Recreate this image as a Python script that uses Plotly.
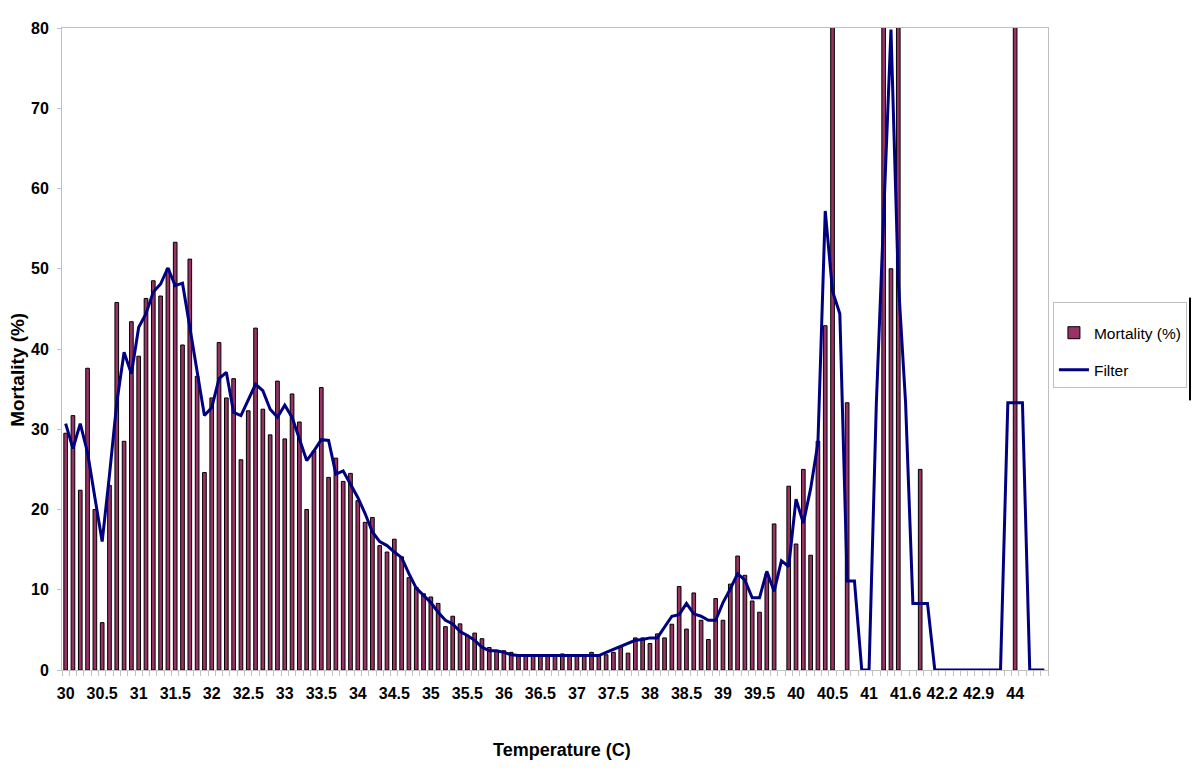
import plotly.graph_objects as go

# ---- data -----------------------------------------------------------------
temps = [
    30.0, 30.1, 30.2, 30.3, 30.4, 30.5, 30.6, 30.7, 30.8, 30.9,
    31.0, 31.1, 31.2, 31.3, 31.4, 31.5, 31.6, 31.7, 31.8, 31.9,
    32.0, 32.1, 32.2, 32.3, 32.4, 32.5, 32.6, 32.7, 32.8, 32.9,
    33.0, 33.1, 33.2, 33.3, 33.4, 33.5, 33.6, 33.7, 33.8, 33.9,
    34.0, 34.1, 34.2, 34.3, 34.4, 34.5, 34.6, 34.7, 34.8, 34.9,
    35.0, 35.1, 35.2, 35.3, 35.4, 35.5, 35.6, 35.7, 35.8, 35.9,
    36.0, 36.1, 36.2, 36.3, 36.4, 36.5, 36.6, 36.7, 36.8, 36.9,
    37.0, 37.1, 37.2, 37.3, 37.4, 37.5, 37.6, 37.7, 37.8, 37.9,
    38.0, 38.1, 38.2, 38.3, 38.4, 38.5, 38.6, 38.7, 38.8, 38.9,
    39.0, 39.1, 39.2, 39.3, 39.4, 39.5, 39.6, 39.7, 39.8, 39.9,
    40.0, 40.1, 40.2, 40.3, 40.4, 40.5, 40.6, 40.7, 40.8, 40.9,
    41.0, 41.1, 41.2, 41.3, 41.4, 41.6, 41.7, 41.8, 41.9, 42.0,
    42.2, 42.3, 42.5, 42.6, 42.8, 42.9, 43.1, 43.3, 43.6, 43.8,
    44.0, 44.2, 44.5, 44.8, 45.0,
]

tick_labels = ["30", "30.5", "31", "31.5", "32", "32.5", "33", "33.5", "34",
               "34.5", "35", "35.5", "36", "36.5", "37", "37.5", "38", "38.5",
               "39", "39.5", "40", "40.5", "41", "41.6", "42.2", "42.9", "44"]

mortality = [
    29.5, 31.7, 22.4, 37.6, 20.0, 5.9, 23.0, 45.8, 28.5, 43.4,
    39.1, 46.3, 48.5, 46.6, 50.0, 53.3, 40.5, 51.2, 36.6, 24.6,
    33.9, 40.8, 33.9, 36.3, 26.2, 32.3, 42.6, 32.5, 29.3, 36.0,
    28.8, 34.4, 30.9, 20.0, 27.3, 35.2, 24.0, 26.4, 23.5, 24.5,
    21.1, 18.4, 19.0, 15.5, 14.7, 16.3, 14.1, 11.5, 10.3, 9.5,
    9.1, 8.3, 5.4, 6.7, 5.75, 4.3, 4.6, 3.9, 2.8, 2.4,
    2.4, 2.2, 1.8, 1.8, 1.8, 1.8, 1.8, 1.8, 2.0, 1.8,
    1.8, 1.8, 2.2, 1.8, 1.9, 2.2, 2.85, 2.1, 4.0, 4.0,
    3.3, 4.5, 4.0, 5.7, 10.4, 5.1, 9.6, 6.2, 3.8, 8.9,
    6.2, 10.7, 14.2, 11.8, 8.6, 7.2, 12.0, 18.2, None, 22.9,
    15.7, 25.0, 14.3, 28.5, 42.9, 100.0, None, 33.3, None, None,
    None, None, 100.0, 50.0, 100.0, None, None, 25.0, None, None,
    None, None, None, None, None, None, None, None, None, None,
    100.0, None, None, None, None,
]

filter_vals = [
    30.7, 27.6, 30.7, 27.1, 21.5, 16.0, 24.3, 33.3, 39.6, 36.9,
    42.7, 44.4, 47.1, 48.1, 50.1, 47.9, 48.2, 42.7, 37.3, 31.7,
    32.7, 36.3, 37.1, 32.1, 31.7, 33.6, 35.6, 34.8, 32.5, 31.5,
    33.0, 31.5, 28.8, 26.1, 27.3, 28.7, 28.6, 24.4, 24.8, 23.2,
    21.5, 19.5, 17.2, 16.0, 15.5, 14.7, 14.0, 12.0, 10.2, 9.3,
    8.4, 7.2, 6.2, 5.75, 4.8, 4.3, 3.7, 2.85, 2.4, 2.4,
    2.2, 1.9, 1.8, 1.8, 1.8, 1.8, 1.8, 1.8, 1.8, 1.8,
    1.8, 1.8, 1.8, 1.8, 2.2, 2.6, 2.9, 3.3, 3.7, 3.8,
    4.0, 4.0, 5.3, 6.7, 6.9, 8.3, 7.0, 6.7, 6.2, 6.2,
    8.4, 10.1, 12.0, 11.2, 9.0, 9.0, 12.3, 9.8, 13.6, 12.9,
    21.3, 18.3, 22.6, 28.3, 57.2, 47.2, 44.4, 11.1, 11.1, 0.0,
    0.0, 33.3, 56.6, 79.8, 48.5, 33.3, 8.3, 8.3, 8.3, 0.0,
    0.0, 0.0, 0.0, 0.0, 0.0, 0.0, 0.0, 0.0, 0.0, 33.3,
    33.3, 33.3, 0.0, 0.0, 0.0,
]

# ---- figure ---------------------------------------------------------------
cats = [f"{t:.1f}" for t in temps]
label_every = 5
ticktext = []
li = 0
for i, c in enumerate(cats):
    if i % label_every == 0 and li < len(tick_labels):
        ticktext.append(tick_labels[li])
        li += 1
    else:
        ticktext.append("")

FONT = "Liberation Sans, Arial, sans-serif"
GRAY = "#c0c0c0"

fig = go.Figure()
fig.add_trace(go.Bar(
    x=cats, y=mortality, name="Mortality (%)",
    marker=dict(color="#993366", line=dict(color="#000000", width=1)),
    legendgroup="a",
))
fig.add_trace(go.Scatter(
    x=cats, y=filter_vals, name="Filter", mode="lines",
    line=dict(color="#000080", width=3),
    legendgroup="b",
))

# the page body has an 8px margin all round, so the figure fits inside it
fig.update_layout(
    width=1184, height=767,
    margin=dict(l=54, r=144, t=20, b=105, autoexpand=False),
    paper_bgcolor="white", plot_bgcolor="white",
    bargap=0.5,
    showlegend=True,
    legend=dict(
        x=1.0050, xanchor="left", y=0.573, yanchor="top",
        bordercolor=GRAY, borderwidth=1, bgcolor="white",
        font=dict(family=FONT, size=15.5, color="black"),
        tracegroupgap=14,
        title=dict(text=" ", font=dict(size=10)),
    ),
    font=dict(family=FONT, color="black"),
)

fig.update_xaxes(
    type="category", range=[-0.5, len(cats) - 0.5],
    tickmode="array", tickvals=cats, ticktext=ticktext,
    tickson="boundaries", ticks="outside", ticklen=5, tickcolor=GRAY,
    showline=True, linecolor=GRAY, linewidth=1, mirror=True,
    showgrid=False, zeroline=False, automargin=False,
    tickangle=0,
    tickfont=dict(family=FONT, size=16, color="black", weight="bold"),
    ticklabelstandoff=9,
)
fig.update_yaxes(
    range=[0, 80], dtick=10, tick0=0,
    ticks="outside", ticklen=4, tickcolor=GRAY,
    showline=True, linecolor=GRAY, linewidth=1, mirror=True,
    showgrid=False, zeroline=False, automargin=False,
    tickfont=dict(family=FONT, size=16, color="black", weight="bold"),
    ticklabelstandoff=5,
)

# axis titles (placed as in the reference)
fig.add_annotation(text="Temperature (C)", xref="paper", yref="paper",
                   x=0.507, y=-0.1246, xanchor="center", yanchor="middle",
                   showarrow=False,
                   font=dict(family=FONT, size=18, color="black", weight="bold"))
fig.add_annotation(text="Mortality (%)", xref="paper", yref="paper",
                   x=-0.045, y=0.467, xanchor="center", yanchor="middle",
                   textangle=-90, showarrow=False,
                   font=dict(family=FONT, size=19, color="black", weight="bold"))

fig.add_shape(type="line", xref="paper", yref="paper",
              x0=1.144, x1=1.144, y0=0.42, y1=0.58,
              line=dict(color="black", width=2))

fig.write_html("out.html")
